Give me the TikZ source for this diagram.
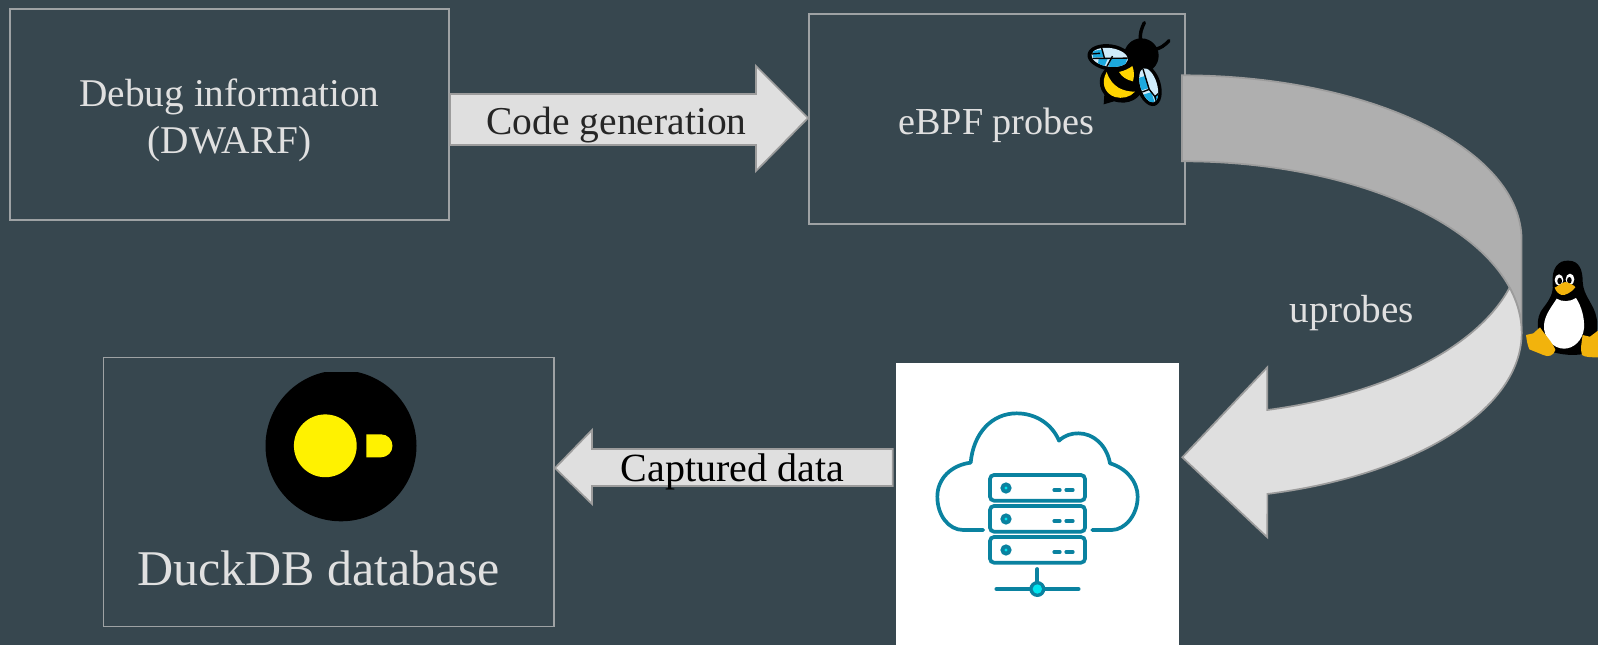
\documentclass[tikz,border=0pt]{standalone}
\usepackage{fontspec}
\setmainfont{Liberation Serif}
\definecolor{bg}{HTML}{37474F}
\definecolor{edge}{HTML}{9EA2A4}
\definecolor{txt}{HTML}{E0E0E0}
\definecolor{lightg}{HTML}{DFDFDF}
\definecolor{darkg}{HTML}{AFAFAF}
\definecolor{arrowedge}{HTML}{9C9C9C}
\definecolor{teal}{HTML}{0A82A0}
\definecolor{cyanb}{HTML}{00E5EE}
\definecolor{wingl}{HTML}{CFECFB}
\definecolor{wingb}{HTML}{1CA9DE}
\definecolor{beey}{HTML}{FFD400}
\definecolor{tuxy}{HTML}{F2B30C}
\definecolor{duckY}{HTML}{FFF200}
\tikzset{
  panel/.style={draw=edge,line width=1.9pt,fill=none},
  blockarrow/.style={draw=arrowedge,line width=1.7pt,fill=lightg,line join=miter},
  label/.style={anchor=base,text=txt,inner sep=0pt},
  cloudline/.style={draw=teal,line width=3.7pt,line cap=round,line join=round},
  vein/.style={draw=black,line width=1.4pt},
}
\begin{document}
\begin{tikzpicture}[x=1pt,y=-1pt]
\useasboundingbox (0,0) rectangle (1598,645);
\fill[bg] (0,0) rectangle (1598,645);

% boxes
\coordinate (dbgA) at (10,9); \coordinate (dbgB) at (449,220);
\draw[panel] (dbgA) rectangle (dbgB);
\coordinate (ebpfA) at (809,14); \coordinate (ebpfB) at (1185,224);
\draw[panel] (ebpfA) rectangle (ebpfB);
\coordinate (duckA) at (103.5,357.5); \coordinate (duckB) at (554,626.5);
\draw[panel] (duckA) rectangle (duckB);

% code generation arrow
\coordinate (cgS) at (450,119.5);
\coordinate (cgT) at (808,118);
\draw[blockarrow] (cgS |- 0,94) -- (756,94) -- (756,66) -- (cgT) -- (756,171) -- (756,145) -- (cgS |- 0,145) -- cycle;

% captured data arrow
\coordinate (capS) at (892.7,467);
\coordinate (capT) at (555,468);
\draw[blockarrow] (capS |- 0,449) -- (592,449) -- (592,430) -- (capT) -- (592,504) -- (592,486) -- (capS |- 0,486) -- cycle;

% curved arrow
\fill[darkg,draw=arrowedge,line width=1.7pt,line join=miter]
  (1182,75.3) arc[start angle=90,end angle=0,x radius=339.6pt,y radius=164.7pt]
  -- (1521.6,333)
  arc[start angle=0,end angle=90,x radius=339.6pt,y radius=171.7pt]
  -- cycle;
\fill[lightg,draw=arrowedge,line width=1.7pt,line join=miter]
  (1509.6,287.7) arc[start angle=15.3,end angle=0,x radius=339.6pt,y radius=171.7pt]
  arc[start angle=0,end angle=-75.45,x radius=339.6pt,y radius=166.3pt]
  -- (1267.3,537.3) -- (1182.3,457.3) -- (1267.3,367.3) -- (1267.3,410)
  arc[start angle=-75.45,end angle=-15.3,x radius=339.6pt,y radius=173.7pt]
  -- cycle;

% white server panel
\fill[white] (896,363) rectangle (1179,645);
\begin{scope}[shift={(880,350)},x=0.33333pt,y=-0.33333pt]
  \draw[cloudline] (310,540) -- (250,540)
    .. controls (205,540) and (172,495) .. (172,440)
    .. controls (172,385) and (215,345) .. (272,338)
    .. controls (280,250) and (335,190) .. (410,190)
    .. controls (465,190) and (515,220) .. (537,272)
    .. controls (555,255) and (575,250) .. (595,250)
    .. controls (640,250) and (680,285) .. (690,340)
    .. controls (740,355) and (773,395) .. (773,440)
    .. controls (773,495) and (735,540) .. (695,540) -- (637,540);
  \foreach \yy in {375,468,561}{
    \draw[teal,line width=3.7pt,rounded corners=4pt] (330,\yy) rectangle (615,\yy+77);
    \fill[teal] (378,\yy+39) circle[radius=17];
    \fill[cyanb] (378,\yy+39) circle[radius=5];
    \draw[teal,line width=3.2pt,line cap=round] (522,\yy+45) -- (540,\yy+45);
    \draw[teal,line width=3.2pt,line cap=round] (558,\yy+45) -- (579,\yy+45);
  }
  \draw[cloudline] (472,657) -- (472,700);
  \draw[cloudline] (349,717) -- (596,717);
  \fill[teal] (472,717) circle[radius=24];
  \fill[cyanb] (472,717) circle[radius=14];
\end{scope}

% duck logo
\begin{scope}
  \clip (250,372) rectangle (430,530);
  \fill[black] (341,445.8) circle[radius=75.5];
\end{scope}
\fill[duckY] (325.3,445.8) circle[radius=31.4];
\fill[duckY] (366.3,434.3) -- (381,434.3) arc[start angle=90,end angle=-90,radius=11.5pt] -- (366.3,457.3) -- cycle;

% bee
\begin{scope}[shift={(1070,10)},x=0.33333pt,y=-0.33333pt]
  \draw[black,line width=3.4pt,line cap=round] (212,95) .. controls (208,70) and (215,55) .. (223,38);
  \draw[black,line width=3.4pt,line cap=round] (250,118) .. controls (270,118) and (285,105) .. (297,92);
  \fill[black] (214,137) circle[radius=52];
  \fill[black] (125,165) .. controls (88,180) and (78,222) .. (103,254)
     -- (101,283) -- (132,274)
     .. controls (175,287) and (214,267) .. (224,225)
     .. controls (232,185) and (190,145) .. (125,165) -- cycle;
  \fill[beey] (110,186) .. controls (93,215) and (101,250) .. (135,261)
     .. controls (155,267) and (181,262) .. (195,245)
     .. controls (160,245) and (125,232) .. (110,186) -- cycle;
  \fill[beey] (147,186) .. controls (165,182) and (178,175) .. (187,168)
     .. controls (193,185) and (193,195) .. (189,214)
     .. controls (170,210) and (155,200) .. (147,186) -- cycle;
  % wing 1
  \begin{scope}[shift={(119,142)},rotate=-8]
    \fill[black] (0,0) ellipse[x radius=67,y radius=39];
    \begin{scope}
      \clip (0,0) ellipse[x radius=55,y radius=28];
      \fill[wingl] (-60,-30) rectangle (60,30);
      \fill[wingb] (-52,-12) -- (-25,-20) -- (-18,2) -- (-50,8) -- cycle;
      \fill[wingb] (-32,10) -- (-5,4) -- (-12,30) -- (-32,30) -- cycle;
      \fill[wingb] (5,5) -- (52,-2) -- (50,22) -- (0,30) -- cycle;
      \draw[vein] (-30,-30) -- (-15,5);
      \draw[vein] (-60,12) -- (60,-6);
      \draw[vein] (8,-5) -- (-5,30);
      \draw[vein] (-30,-8) -- (-58,-2);
    \end{scope}
  \end{scope}
  % wing 2
  \begin{scope}[shift={(236,226)},rotate=17]
    \fill[black] (0,0) ellipse[x radius=36,y radius=64];
    \begin{scope}
      \clip (0,0) ellipse[x radius=25,y radius=53];
      \fill[wingl] (-30,-60) rectangle (30,60);
      \fill[wingb] (-26,-30) -- (-3,-30) -- (-3,8) -- (-26,8) -- cycle;
      \fill[wingb] (-25,22) -- (2,22) -- (2,55) -- (-25,55) -- cycle;
      \fill[wingb] (5,38) -- (27,30) -- (27,55) -- (5,55) -- cycle;
      \draw[vein] (-2,-60) -- (-2,12) -- (8,38) -- (8,60);
      \draw[vein] (-30,14) -- (-2,12);
      \draw[vein] (8,38) -- (30,28);
    \end{scope}
  \end{scope}
\end{scope}

% tux
\begin{scope}[shift={(1490,240)},x=0.33333pt,y=-0.33333pt]
  \fill[black] (188,130) .. controls (184,85) and (205,60) .. (235,62)
     .. controls (268,62) and (278,90) .. (278,125)
     .. controls (280,170) and (312,190) .. (320,235)
     .. controls (326,270) and (315,310) .. (295,338)
     .. controls (260,350) and (210,345) .. (175,332)
     .. controls (148,300) and (132,255) .. (152,215)
     .. controls (168,190) and (192,170) .. (188,130) -- cycle;
  \fill[white] (200,176) .. controls (215,186) and (240,186) .. (258,174)
     .. controls (275,200) and (284,235) .. (282,265)
     .. controls (278,302) and (250,326) .. (222,326)
     .. controls (190,326) and (160,295) .. (162,255)
     .. controls (164,225) and (185,200) .. (200,176) -- cycle;
  \fill[white] (207,120) ellipse[x radius=13,y radius=17];
  \fill[white] (240,118) ellipse[x radius=13,y radius=17];
  \fill[black] (209,123) ellipse[x radius=7,y radius=10];
  \fill[black] (238,121) ellipse[x radius=7,y radius=10];
  \fill[tuxy] (194,143) .. controls (210,135) and (222,122) .. (232,127)
     .. controls (240,132) and (254,135) .. (256,142)
     .. controls (245,157) and (225,167) .. (215,165)
     .. controls (205,162) and (197,153) .. (194,143) -- cycle;
  \fill[tuxy] (108,285) -- (130,280) -- (150,262)
     .. controls (165,285) and (190,310) .. (196,330)
     .. controls (190,348) and (175,352) .. (160,345)
     -- (118,328) .. controls (112,315) and (110,300) .. (108,285) -- cycle;
  \fill[tuxy] (276,345) .. controls (270,330) and (275,305) .. (278,285)
     .. controls (285,285) and (290,290) .. (300,290) -- (324,272) -- (324,352)
     .. controls (305,352) and (285,352) .. (276,345) -- cycle;
\end{scope}

% labels
\node[label,font=\fontsize{39.3}{44}\selectfont] (dbgtxt) at (229.5,106.5) {Debug information};
\node[label,font=\fontsize{39.3}{44}\selectfont] (dwarf) at (229.5,153) {(DWARF)};
\node[label,text=black!85,font=\fontsize{39.5}{44}\selectfont] (cgtxt) at (616.5,134) {Code generation};
\node[label,font=\fontsize{38.2}{44}\selectfont] (ebpftxt) at (996.5,134) {eBPF probes};
\node[label,font=\fontsize{39.2}{44}\selectfont] (uptxt) at (1352,322) {uprobes};
\node[label,text=black,font=\fontsize{40}{44}\selectfont] (captxt) at (732.5,481) {Captured data};
\node[label,font=\fontsize{50}{56}\selectfont] (ducktxt) at (318.5,585.7) {DuckDB database};
\end{tikzpicture}
\end{document}
